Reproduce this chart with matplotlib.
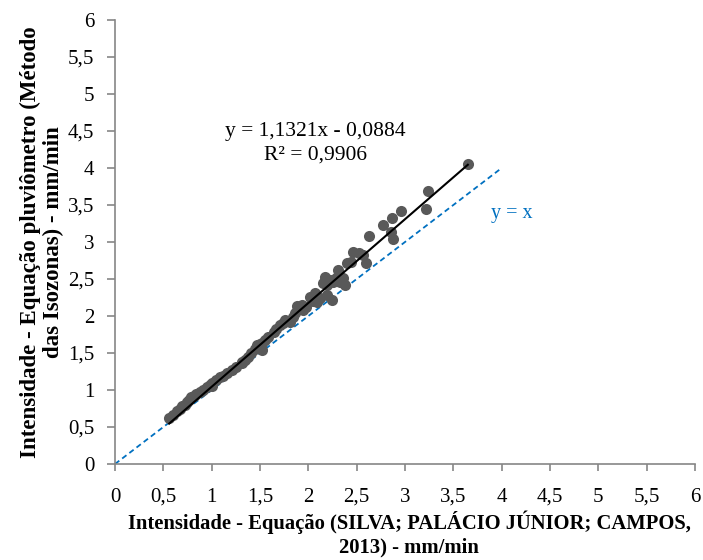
import matplotlib
matplotlib.use("Agg")
import matplotlib.pyplot as plt
import numpy as np

plt.rcParams['font.family'] = ['Liberation Serif', 'DejaVu Serif']

x_vals = [0.56, 0.60, 0.64, 0.67, 0.69, 0.72, 0.74, 0.77, 0.79, 0.82, 0.84, 0.88, 0.91, 0.95,
          0.98, 1.00, 1.04, 1.09, 1.12, 1.16, 1.21, 1.25, 1.31, 1.34, 1.38, 1.41, 1.45, 1.47,
          1.50, 1.52, 1.55, 1.58, 1.64, 1.67, 1.71, 1.74, 1.76, 1.81, 1.84, 1.86, 1.88, 1.91,
          1.93, 1.95, 1.98, 2.02, 2.05, 2.07, 2.09, 2.12, 2.15, 2.17, 2.19, 2.22, 2.25, 2.29,
          2.31, 2.33, 2.36, 2.40, 2.44, 2.46, 2.52, 2.57, 2.60, 2.63, 2.77, 2.85, 2.87, 2.88,
          2.96, 3.22, 3.24, 3.65, 2.38, 2.19, 2.17, 1.52, 1.31, 1.00, 2.09, 2.26]
y_vals = [0.62, 0.66, 0.72, 0.75, 0.79, 0.80, 0.84, 0.86, 0.91, 0.92, 0.95, 0.97, 1.00, 1.04,
          1.07, 1.09, 1.13, 1.18, 1.19, 1.23, 1.27, 1.31, 1.38, 1.40, 1.44, 1.50, 1.55, 1.61,
          1.62, 1.63, 1.68, 1.72, 1.79, 1.82, 1.88, 1.90, 1.95, 1.92, 1.98, 2.04, 2.13, 2.10,
          2.15, 2.08, 2.12, 2.26, 2.20, 2.31, 2.24, 2.25, 2.44, 2.53, 2.28, 2.49, 2.22, 2.51,
          2.62, 2.46, 2.51, 2.71, 2.73, 2.86, 2.85, 2.82, 2.71, 3.08, 3.23, 3.14, 3.33, 3.04,
          3.42, 3.45, 3.69, 4.06, 2.42, 2.42, 2.49, 1.54, 1.36, 1.06, 2.19, 2.46]

slope = 1.1321
intercept = -0.0884
fit_x = [0.56, 3.65]
identity_x = [0, 4]
ticks = [0, 0.5, 1, 1.5, 2, 2.5, 3, 3.5, 4, 4.5, 5, 5.5, 6]
tick_labels = ['0', '0,5', '1', '1,5', '2', '2,5', '3', '3,5', '4', '4,5', '5', '5,5', '6']

fig = plt.figure(figsize=(7.03, 5.60), dpi=100)
ax = fig.add_axes([115/703, 1-464/560, 580/703, 444/560])

ax.plot(identity_x, identity_x, linestyle=(0, (3, 2)), color='#0070C0', lw=1.3, zorder=1)
ax.scatter(x_vals, y_vals, s=64, color='#595959', zorder=2, linewidths=0)
fx = np.array(fit_x)
ax.plot(fx, slope*fx + intercept, color='black', lw=1.5, zorder=3)

ax.set_xlim(0, 6)
ax.set_ylim(0, 6)
ax.set_xticks(ticks)
ax.set_yticks(ticks)
ax.set_xticklabels(tick_labels, fontsize=15)
ax.set_yticklabels(tick_labels, fontsize=15)
for s in ['top', 'right']:
    ax.spines[s].set_visible(False)
for s in ['left', 'bottom']:
    ax.spines[s].set_color('#868686')
    ax.spines[s].set_linewidth(1.2)
ax.tick_params(axis='x', direction='out', length=5, color='#868686', width=1.2, pad=12)
ax.tick_params(axis='y', direction='out', length=6, color='#868686', width=1.2, pad=9)

ax.text(2.07, 4.49, 'y = 1,1321x - 0,0884', ha='center', va='center', fontsize=15.5)
ax.text(2.07, 4.18, 'R² = 0,9906', ha='center', va='center', fontsize=15.5)
ax.text(4.10, 3.39, 'y = x', ha='center', va='center', fontsize=14.5, color='#0070C0')

ax.set_xlabel('Intensidade - Equação (SILVA; PALÁCIO JÚNIOR; CAMPOS,\n2013) - mm/min',
              fontsize=14.9, fontweight='bold', linespacing=1.2)
ax.xaxis.set_label_coords((409-115)/580, -(557-464)/444)
ax.xaxis.label.set_va('bottom')
ax.set_ylabel('Intensidade - Equação pluviômetro (Método\ndas Isozonas) - mm/min',
              fontsize=16.5, fontweight='bold', linespacing=1.1)
ax.yaxis.set_label_coords(-(115-20)/580, 0.5)
ax.yaxis.label.set_va('top')

fig.savefig('out.png', dpi=100)
